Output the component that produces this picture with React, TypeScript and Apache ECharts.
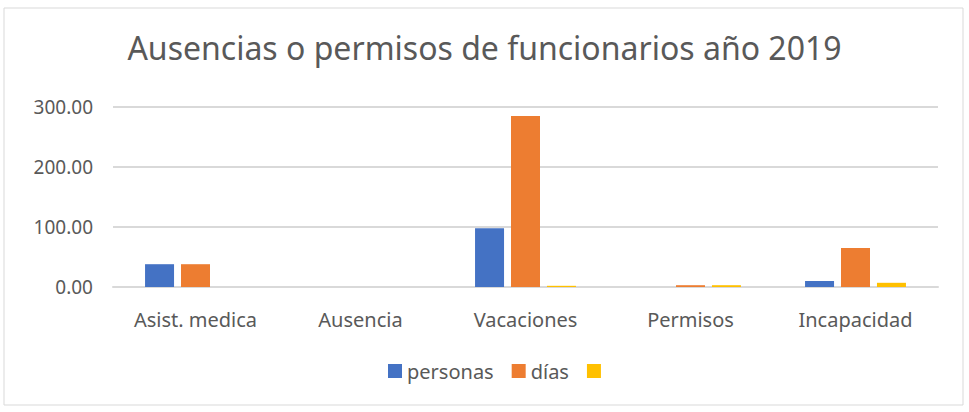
import React, { useEffect, useRef } from "react";
import * as echarts from "echarts";

const categories = ["Asist. medica", "Ausencia", "Vacaciones", "Permisos", "Incapacidad"];
const personas = [38, 0, 98, 0, 10];
const dias = [38, 0, 285, 3, 65];
const tercera = [0, 0, 2, 3, 7];
const seriesNames = ["personas", "días", " "];
const yTicks = [0, 100, 200, 300];

export default function App() {
  const ref = useRef<HTMLDivElement>(null);
  useEffect(() => {
    const chart = echarts.init(ref.current!, null, { renderer: "svg" });
    const font = "Noto Sans";
    const colors = ["#4472C4", "#ED7D31", "#FFC000"];
    const data = [personas, dias, tercera];
    chart.setOption({
      animation: false,
      color: colors,
      graphic: [
        {
          type: "rect",
          shape: { x: 4, y: 8, width: 959, height: 397 },
          style: { fill: "none", stroke: "#d9d9d9", lineWidth: 1 },
          silent: true,
        },
      ],
      title: {
        text: "Ausencias o permisos de funcionarios año 2019",
        left: "center",
        top: 26,
        textStyle: { fontFamily: font, fontSize: 32, fontWeight: "normal", color: "#595959" },
      },
      legend: {
        bottom: 26,
        left: 383,
        itemWidth: 14,
        itemHeight: 14,
        itemGap: 18,
        icon: "rect",
        data: seriesNames,
        textStyle: { fontFamily: font, fontSize: 20, color: "#595959" },
      },
      grid: { left: 113, right: 31, top: 107, bottom: 125 },
      xAxis: {
        type: "category",
        data: categories,
        axisTick: { show: false },
        axisLine: { lineStyle: { color: "#d9d9d9", width: 2 } },
        axisLabel: { fontFamily: font, fontSize: 20, color: "#595959", margin: 22 },
      },
      yAxis: {
        type: "value",
        min: yTicks[0],
        max: yTicks[yTicks.length - 1],
        interval: 100,
        axisLine: { show: false },
        axisTick: { show: false },
        splitLine: { lineStyle: { color: "#d9d9d9", width: 2 } },
        axisLabel: {
          fontFamily: font,
          fontSize: 19,
          color: "#595959",
          margin: 20,
          formatter: (v: number) => v.toFixed(2),
        },
      },
      series: seriesNames.map((n, i) => ({
        name: n,
        type: "bar",
        data: data[i],
        barWidth: 29,
        barGap: "24%",
      })),
    });
    return () => chart.dispose();
  }, []);
  return <div ref={ref} style={{ width: 969, height: 412, position: "absolute", left: 0, top: 0 }} />;
}
